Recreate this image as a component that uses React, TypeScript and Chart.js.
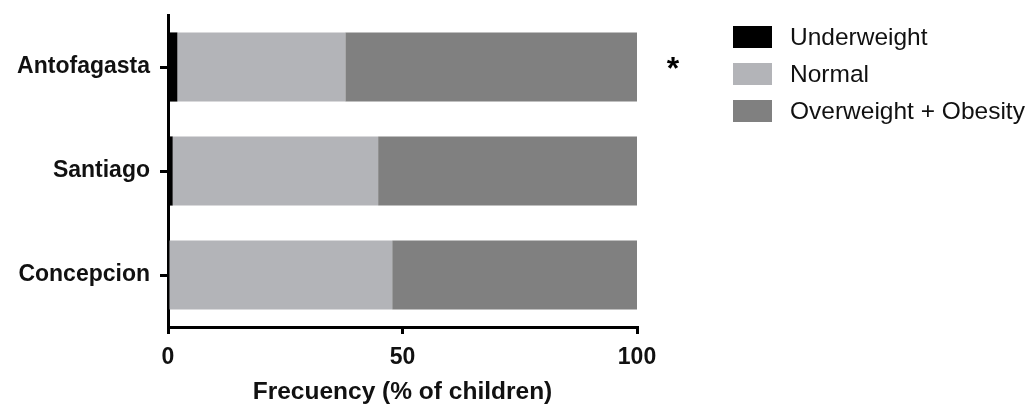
import React, { useEffect, useRef } from "react";
import { Chart, registerables } from "chart.js";

Chart.register(...registerables);

const categories = ["Antofagasta", "Santiago", "Concepcion"];
const underweight = [2.0, 1.0, 0.0];
const normal = [35.8, 43.8, 47.8];
const overweightObesity = [62.2, 55.2, 52.2];
const seriesLabels = ["Underweight", "Normal", "Overweight + Obesity"];
const seriesColors = ["#000000", "#b3b4b8", "#808080"];
const xTicks = [0, 50, 100];
const axisTitle = "Frecuency (% of children)";
const significance = ["*", "", ""];

const FONT = "'Liberation Sans', Arial, Helvetica, sans-serif";

const overlayPlugin = {
  id: "overlay",
  afterDraw(chart: any) {
    const ctx = chart.ctx;
    const xs = chart.scales.x;
    const ys = chart.scales.y;
    ctx.save();
    // significance marks
    ctx.fillStyle = "#000";
    ctx.font = `bold 32px ${FONT}`;
    ctx.textAlign = "center";
    ctx.textBaseline = "alphabetic";
    significance.forEach((s, i) => {
      if (!s) return;
      const y = ys.getPixelForValue(i);
      ctx.fillText(s, xs.getPixelForValue(100) + 36, y + 12);
    });
    // legend
    const boxX = 733;
    const boxW = 39;
    const boxH = 22;
    const y0 = 37;
    const step = 37;
    ctx.font = `24.5px ${FONT}`;
    ctx.textAlign = "left";
    ctx.textBaseline = "middle";
    seriesLabels.forEach((lab, i) => {
      const cy = y0 + i * step;
      ctx.fillStyle = seriesColors[i];
      ctx.fillRect(boxX, cy - boxH / 2, boxW, boxH);
      ctx.fillStyle = "#111";
      ctx.fillText(lab, 790, cy + 1);
    });
    ctx.restore();
  },
};

export default function App() {
  const ref = useRef<HTMLCanvasElement | null>(null);
  useEffect(() => {
    if (!ref.current) return;
    const chart = new Chart(ref.current, {
      type: "bar",
      data: {
        labels: categories,
        datasets: [
          { label: seriesLabels[0], data: underweight, backgroundColor: seriesColors[0] },
          { label: seriesLabels[1], data: normal, backgroundColor: seriesColors[1] },
          { label: seriesLabels[2], data: overweightObesity, backgroundColor: seriesColors[2] },
        ],
      },
      options: {
        indexAxis: "y",
        responsive: false,
        animation: false,
        devicePixelRatio: 1,
        datasets: { bar: { categoryPercentage: 1, barPercentage: 0.665, borderWidth: 0 } },
        layout: { padding: { left: 0, right: 395, top: 15, bottom: 0 } },
        plugins: { legend: { display: false }, tooltip: { enabled: false }, title: { display: false } },
        scales: {
          x: {
            stacked: true,
            min: 0,
            max: 100,
            afterBuildTicks: (s: any) => {
              s.ticks = xTicks.map((v) => ({ value: v }));
            },
            afterFit: (s: any) => {
              s.height = 78;
              s.paddingLeft = 0;
              s.paddingRight = 0;
            },
            border: { display: true, color: "#000", width: 3 },
            grid: { display: true, drawOnChartArea: false, drawTicks: true, tickLength: 7, color: "#000", lineWidth: 3 },
            ticks: { color: "#111", font: { family: FONT, size: 23, weight: "bold" }, padding: 10, maxRotation: 0 },
            title: {
              display: true,
              text: axisTitle,
              color: "#111",
              font: { family: FONT, size: 24.5, weight: "bold" },
              padding: { top: 0, bottom: -2 },
            },
          },
          y: {
            stacked: true,
            afterFit: (s: any) => {
              s.width = 168;
              s.paddingTop = 0;
              s.paddingBottom = 0;
            },
            border: { display: true, color: "#000", width: 3 },
            grid: { display: true, offset: false, drawOnChartArea: false, drawTicks: true, tickLength: 8, color: "#000", lineWidth: 3 },
            ticks: { color: "#111", font: { family: FONT, size: 23, weight: "bold" }, padding: 10 },
          },
        },
      },
      plugins: [overlayPlugin],
    } as any);
    return () => chart.destroy();
  }, []);
  return (
    <div style={{ position: "absolute", left: 0, top: 0, width: 1032, height: 405, background: "#fff" }}>
      <canvas ref={ref} width={1032} height={405} style={{ display: "block" }} />
    </div>
  );
}
